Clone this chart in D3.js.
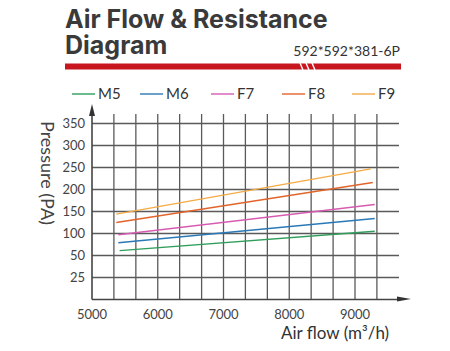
<!DOCTYPE html>
<html><head><meta charset="utf-8">
<script src="https://cdn.jsdelivr.net/npm/d3@7"></script>
<style>body{margin:0;background:#fff;}svg{display:block;}</style>
</head><body>
<script>
const seriesNames = ["M5","M6","F7","F8","F9"];
const seriesColors = ["#2f9e5c","#2a79b6","#d65cb2","#e1642b","#f5ab45"];
const xStart = [5420, 5400, 5400, 5370, 5370];
const xEnd = [9300, 9300, 9300, 9270, 9240];
const pStart = [61, 79, 97, 125, 144];
const pEnd = [105, 134, 166, 216, 247];
const yTicks = [25, 50, 100, 150, 200, 250, 300, 350];
const xTicks = [5000, 6000, 7000, 8000, 9000];
const xGrid = [5333, 5667, 6000, 6333, 6667, 7000, 7333, 7667, 8000, 8333, 8667, 9000, 9333];
const titleLines = ["Air Flow & Resistance", "Diagram"];

const W = 450, H = 351;
const svg = d3.select("body").append("svg").attr("width", W).attr("height", H);
const font = "Lato, 'Open Sans', sans-serif";

// title (one text, two lines)
const title = svg.append("text").attr("x", 65).attr("y", 28)
  .attr("font-family", "Inter, sans-serif").attr("font-weight", 700).attr("font-size", 25).attr("fill", "#3a3a3a");
title.selectAll("tspan").data(titleLines).join("tspan")
  .attr("x", 65).attr("dy", (d, i) => i === 0 ? 0 : 26).text(d => d);
svg.append("text").attr("x", 400).attr("y", 56).attr("text-anchor", "end").text("592*592*381-6P")
  .attr("font-family", font).attr("font-size", 14).attr("fill", "#333");
svg.append("rect").attr("x", 65).attr("y", 63.5).attr("width", 336).attr("height", 6).attr("fill", "#c8161e");
[300, 306, 312].forEach(x => {
  svg.append("line").attr("x1", x).attr("y1", 63).attr("x2", x + 3).attr("y2", 70)
    .attr("stroke", "#fff").attr("stroke-width", 1.4);
});

// scales
const x = d3.scaleLinear().domain([5000, 9000]).range([92, 355]);
const yDomain = [0].concat(yTicks);
const y = d3.scaleLinear().domain(yDomain).range(yDomain.map((d, i) => 299.5 - 22 * i));

const gridColor = "#5a5a5a";
svg.append("g").selectAll("line").data(yTicks).join("line")
  .attr("x1", 92).attr("x2", 399).attr("y1", d => y(d)).attr("y2", d => y(d))
  .attr("stroke", gridColor).attr("stroke-width", 1.3);
svg.append("g").selectAll("line").data(xGrid).join("line")
  .attr("x1", d => x(d)).attr("x2", d => x(d)).attr("y1", 299.5).attr("y2", 114)
  .attr("stroke", gridColor).attr("stroke-width", 1.3);

// axes
const axisColor = "#444";
svg.append("line").attr("x1", 92).attr("x2", 92).attr("y1", 299.5).attr("y2", 112).attr("stroke", axisColor).attr("stroke-width", 1.6);
svg.append("path").attr("d", "M92,104 L89,116 L95,116 Z").attr("fill", "#333");
svg.append("line").attr("x1", 92).attr("x2", 400).attr("y1", 299.5).attr("y2", 299.5).attr("stroke", axisColor).attr("stroke-width", 1.6);
svg.append("path").attr("d", "M411,299 L397,296.5 L397,301.5 Z").attr("fill", "#333");

// tick labels
svg.append("g").selectAll("text").data(yTicks).join("text")
  .attr("x", 85).attr("y", d => y(d) + 4.5).attr("text-anchor", "end").text(d => d)
  .attr("font-family", font).attr("font-size", 13).attr("fill", "#444");
svg.append("g").selectAll("text").data(xTicks).join("text")
  .attr("x", d => x(d)).attr("y", 319).attr("text-anchor", "middle").text(d => d)
  .attr("font-family", font).attr("font-size", 13).attr("fill", "#444");

// axis titles
svg.append("text").attr("transform", "translate(41,173) rotate(90)").attr("text-anchor", "middle")
  .text("Pressure (PA)").attr("font-family", font).attr("font-size", 18).attr("fill", "#444");
svg.append("text").attr("x", 281).attr("y", 339).text("Air flow (m³/h)")
  .attr("font-family", font).attr("font-size", 17).attr("fill", "#333");

// series
const line = d3.line().x(d => x(d[0])).y(d => y(d[1]));
seriesNames.forEach((name, i) => {
  svg.append("path").datum([[xStart[i], pStart[i]], [xEnd[i], pEnd[i]]])
    .attr("d", line).attr("fill", "none").attr("stroke", seriesColors[i]).attr("stroke-width", 1.4);
});

// legend
const legX = [72, 140, 211, 282, 352];
seriesNames.forEach((name, i) => {
  svg.append("line").attr("x1", legX[i]).attr("x2", legX[i] + 23).attr("y1", 94).attr("y2", 94)
    .attr("stroke", seriesColors[i]).attr("stroke-width", 1.4);
  svg.append("text").attr("x", legX[i] + 26).attr("y", 99).text(name)
    .attr("font-family", font).attr("font-size", 15).attr("fill", "#333");
});
</script>
</body></html>
